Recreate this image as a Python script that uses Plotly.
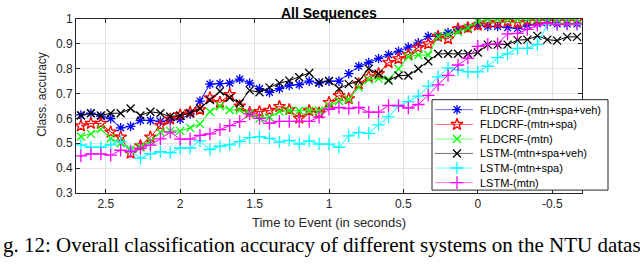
import plotly.graph_objects as go

# time to event (s), one sample every 1/15 s
times = [2.667, 2.6, 2.533, 2.467, 2.4, 2.333, 2.267, 2.2, 2.133, 2.067,
         2.0, 1.933, 1.867, 1.8, 1.733, 1.667, 1.6, 1.533, 1.467, 1.4,
         1.333, 1.267, 1.2, 1.133, 1.067, 1.0, 0.933, 0.867, 0.8, 0.733,
         0.667, 0.6, 0.533, 0.467, 0.4, 0.333, 0.267, 0.2, 0.133, 0.067,
         0.0, -0.067, -0.133, -0.2, -0.267, -0.333, -0.4, -0.467, -0.533, -0.6,
         -0.667]

fldcrf_msv = [0.614, 0.621, 0.609, 0.599, 0.562, 0.568, 0.592, 0.592, 0.588, 0.592,
              0.596, 0.618, 0.670, 0.738, 0.740, 0.742, 0.758, 0.742, 0.720, 0.705,
              0.720, 0.733, 0.736, 0.750, 0.742, 0.750, 0.750, 0.780, 0.810, 0.825,
              0.841, 0.857, 0.870, 0.887, 0.904, 0.930, 0.932, 0.945, 0.958, 0.965,
              0.975, 0.970, 0.970, 0.965, 0.962, 0.975, 0.980, 0.985, 0.980, 0.980,
              0.980]
fldcrf_ms = [0.570, 0.580, 0.580, 0.545, 0.525, 0.460, 0.490, 0.525, 0.572, 0.597,
             0.614, 0.625, 0.635, 0.683, 0.664, 0.696, 0.650, 0.624, 0.627, 0.632,
             0.648, 0.635, 0.601, 0.631, 0.622, 0.664, 0.692, 0.679, 0.739, 0.767,
             0.780, 0.825, 0.840, 0.857, 0.885, 0.900, 0.930, 0.920, 0.960, 0.965,
             0.975, 0.985, 0.985, 0.990, 0.985, 0.995, 0.995, 0.995, 0.995, 0.995,
             0.995]
fldcrf_m = [0.527, 0.538, 0.557, 0.520, 0.500, 0.475, 0.485, 0.508, 0.545, 0.550,
            0.550, 0.562, 0.578, 0.627, 0.649, 0.634, 0.634, 0.620, 0.600, 0.605,
            0.628, 0.631, 0.631, 0.631, 0.631, 0.650, 0.670, 0.677, 0.725, 0.756,
            0.760, 0.757, 0.800, 0.848, 0.855, 0.855, 0.930, 0.937, 0.948, 0.965,
            0.990, 1.0, 1.0, 1.0, 1.0, 1.0, 1.0, 1.0, 1.0, 1.0,
            1.0]
lstm_msv = [0.612, 0.621, 0.612, 0.621, 0.621, 0.640, 0.612, 0.627, 0.621, 0.608,
            0.612, 0.621, 0.640, 0.674, 0.709, 0.683, 0.661, 0.713, 0.705, 0.725,
            0.742, 0.752, 0.766, 0.783, 0.745, 0.751, 0.720, 0.738, 0.750, 0.800,
            0.780, 0.752, 0.773, 0.773, 0.800, 0.830, 0.860, 0.860, 0.860, 0.860,
            0.865, 0.897, 0.897, 0.897, 0.915, 0.917, 0.932, 0.917, 0.913, 0.928,
            0.928]
lstm_ms = [0.494, 0.484, 0.484, 0.494, 0.507, 0.470, 0.440, 0.458, 0.466, 0.462,
           0.481, 0.481, 0.510, 0.475, 0.488, 0.494, 0.507, 0.523, 0.527, 0.520,
           0.505, 0.512, 0.497, 0.510, 0.497, 0.497, 0.484, 0.530, 0.544, 0.540,
           0.574, 0.606, 0.650, 0.668, 0.690, 0.730, 0.767, 0.803, 0.795, 0.787,
           0.787, 0.810, 0.845, 0.860, 0.882, 0.882, 0.898, 0.978, 0.980, 0.980,
           0.978]
lstm_m = [0.449, 0.457, 0.457, 0.452, 0.472, 0.467, 0.480, 0.493, 0.518, 0.545,
          0.517, 0.517, 0.532, 0.538, 0.555, 0.571, 0.587, 0.618, 0.600, 0.580,
          0.588, 0.588, 0.588, 0.588, 0.605, 0.637, 0.644, 0.640, 0.644, 0.625,
          0.625, 0.652, 0.652, 0.642, 0.656, 0.693, 0.735, 0.773, 0.815, 0.842,
          0.890, 0.898, 0.900, 0.940, 0.942, 0.958, 0.975, 0.985, 0.978, 0.980,
          0.980]

names = ["FLDCRF-(mtn+spa+veh)", "FLDCRF-(mtn+spa)", "FLDCRF-(mtn)",
         "LSTM-(mtn+spa+veh)", "LSTM-(mtn+spa)", "LSTM-(mtn)"]
series = [fldcrf_msv, fldcrf_ms, fldcrf_m, lstm_msv, lstm_ms, lstm_m]
colors = ["#0000ff", "#ff0000", "#00ff00", "#000000", "#00ffff", "#ff00ff"]
symbols = ["asterisk-open", "star-open", "x-thin-open", "x-thin-open",
           "cross-thin-open", "cross-thin-open"]
msizes = [8, 9, 8, 8, 9, 9]

xticks = [2.5, 2, 1.5, 1, 0.5, 0, -0.5]
xticktext = ["2.5", "2", "1.5", "1", "0.5", "0", "-0.5"]
yticks = [0.3, 0.4, 0.5, 0.6, 0.7, 0.8, 0.9, 1.0]
yticktext = ["0.3", "0.4", "0.5", "0.6", "0.7", "0.8", "0.9", "1"]

caption = "g. 12: Overall classification accuracy of different systems on the NTU datas"

FONT = "Liberation Sans, Arial, sans-serif"
AX = "#262626"

fig = go.Figure()
for n, s, c, sym, ms in zip(names, series, colors, symbols, msizes):
    fig.add_trace(go.Scatter(
        x=times, y=s, mode="lines+markers", name=n,
        line=dict(color=c, width=1),
        marker=dict(symbol=sym, size=ms, color=c, line=dict(color=c, width=1.3)),
        showlegend=False, xaxis="x", yaxis="y"))

# custom legend drawn in an inset subplot (local pixel units)
LW, LH = 176, 93
fig.add_trace(go.Scatter(
    x=[0, LW, LW, 0, 0], y=[0, 0, LH, LH, 0], fill="toself",
    fillcolor="white", line=dict(width=0), mode="lines",
    hoverinfo="skip", showlegend=False, xaxis="x2", yaxis="y2"))
row_y = [82.7, 67.5, 52.5, 37.7, 22.7, 7.7]
for n, c, sym, ms, ry in zip(names, colors, symbols, msizes, row_y):
    fig.add_trace(go.Scatter(
        x=[3, 41], y=[ry, ry], mode="lines", line=dict(color=c, width=1),
        opacity=0.55, hoverinfo="skip", showlegend=False,
        xaxis="x2", yaxis="y2"))
    fig.add_trace(go.Scatter(
        x=[25], y=[ry], mode="markers",
        marker=dict(symbol=sym, size=ms, color=c, line=dict(color=c, width=1.3)),
        hoverinfo="skip", showlegend=False, cliponaxis=False,
        xaxis="x2", yaxis="y2"))
    fig.add_annotation(x=46, y=ry, xref="x2", yref="y2", text=n,
                       showarrow=False, xanchor="left", yanchor="middle",
                       font=dict(family=FONT, size=11, color="#000000"))

PW = 532.0
fig.add_shape(type="rect", xref="paper", yref="paper",
              x0=(432 - 76) / PW, x1=1.0, y0=3 / 179, y1=96 / 179,
              line=dict(color=AX, width=1), fillcolor="rgba(0,0,0,0)", layer="above")

fig.update_layout(
    width=640, height=267,
    margin=dict(l=76, r=32, t=14, b=74),
    paper_bgcolor="white", plot_bgcolor="white",
    showlegend=False,
    font=dict(family=FONT, size=12, color=AX),
    xaxis=dict(domain=[0, 506 / PW], range=[2.7, -0.7], autorange=False,
               tickvals=xticks, ticktext=xticktext,
               showgrid=True, gridcolor="#e3e3e3", gridwidth=1,
               zeroline=False, showline=True, linecolor=AX, linewidth=1,
               mirror="allticks", ticks="inside", ticklen=4, tickcolor=AX,
               tickfont=dict(family=FONT, size=12, color=AX)),
    yaxis=dict(domain=[0, 1], range=[0.3, 1.0], autorange=False,
               tickvals=yticks, ticktext=yticktext,
               showgrid=True, gridcolor="#e3e3e3", gridwidth=1,
               zeroline=False, showline=True, linecolor=AX, linewidth=1,
               mirror="allticks", ticks="inside", ticklen=4, tickcolor=AX,
               tickfont=dict(family=FONT, size=12, color=AX)),
    xaxis2=dict(domain=[(432 - 76) / PW, 1.0], anchor="y2", range=[0, LW],
                visible=False, fixedrange=True),
    yaxis2=dict(domain=[3 / 179, 96 / 179], anchor="x2", range=[0, LH],
                visible=False, fixedrange=True),
)

cx = (329 - 76) / PW
fig.add_annotation(x=cx, y=(193 - 8) / 179, xref="paper", yref="paper",
                   text="<b>All Sequences</b>", showarrow=False,
                   xanchor="center", yanchor="middle",
                   font=dict(family=FONT, size=14, color="#000000"))
fig.add_annotation(x=cx, y=(193 - 223) / 179, xref="paper", yref="paper",
                   text="Time to Event (in seconds)", showarrow=False,
                   xanchor="center", yanchor="middle",
                   font=dict(family=FONT, size=13, color=AX))
fig.add_annotation(x=(42 - 76) / PW, y=(193 - 92) / 179, xref="paper", yref="paper",
                   text="Class. accuracy", showarrow=False, textangle=-90,
                   xanchor="center", yanchor="middle",
                   font=dict(family=FONT, size=12, color=AX))
fig.add_annotation(x=(1 - 76) / PW, y=(193 - 246) / 179, xref="paper", yref="paper",
                   text=caption,
                   showarrow=False, xanchor="left", yanchor="middle",
                   font=dict(family="Liberation Serif, serif", size=21, color="#000000"))

fig.write_html("out.html", config={"displayModeBar": False},
               post_script="document.body.style.margin='0';document.body.style.overflow='hidden';")
